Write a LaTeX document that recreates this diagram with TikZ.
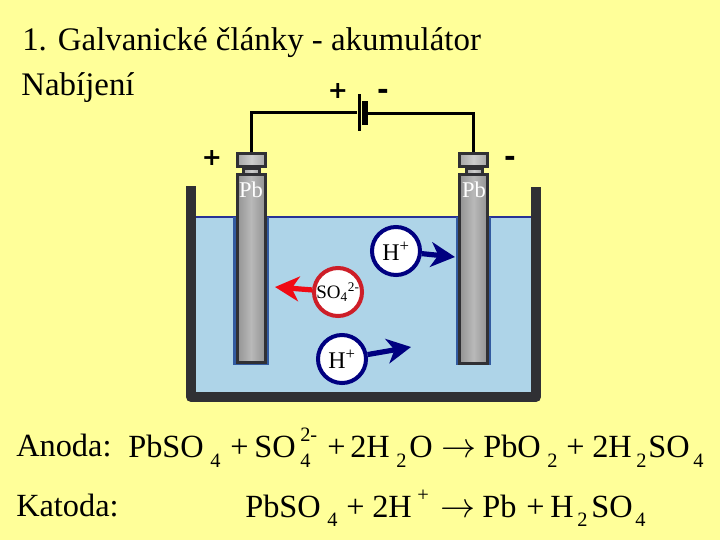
\documentclass[tikz,border=0pt]{standalone}
\usepackage{fontspec}
\setmainfont{Liberation Serif}
\newfontfamily\signfont{DejaVu Sans}
\definecolor{slideyellow}{RGB}{255,255,153}
\definecolor{tankgray}{RGB}{48,48,52}
\definecolor{waterblue}{RGB}{174,212,232}
\definecolor{surfblue}{RGB}{40,50,150}
\definecolor{haloblue}{RGB}{50,90,160}
\definecolor{ionnavy}{RGB}{0,0,128}
\definecolor{ionred}{RGB}{205,30,40}
\definecolor{arrowred}{RGB}{240,10,20}
\usetikzlibrary{arrows.meta,positioning}
\begin{document}
\begin{tikzpicture}[x=0.025cm,y=-0.025cm,
  capbox/.style={draw=tankgray,line width=0.075cm,inner sep=0,left color=gray!70,right color=gray!70,middle color=gray!40,minimum width=0.7cm},
  bodybox/.style={draw=tankgray,line width=0.075cm,inner sep=0,left color=gray!85,right color=gray!85,middle color=gray!55,minimum width=0.7cm,minimum height=4.7cm},
  halo/.style={fill=haloblue,inner sep=0,minimum width=0.88cm,minimum height=3.7cm},
  ion/.style={circle,fill=white,line width=0.1cm,inner sep=0,minimum size=1.2cm,font=\fontsize{17}{17}\selectfont},
  headline/.style={anchor=base west,inner sep=0,font=\fontsize{23.4}{27}\selectfont},
  label/.style={anchor=base west,inner sep=0,font=\fontsize{23}{27}\selectfont},
  index/.style={anchor=base west,inner sep=0,font=\fontsize{14.5}{15}\selectfont},
  wire/.style={draw=black,line width=0.075cm},
  ionarrow/.style={-{Stealth[length=0.6cm,width=0.62cm,inset=0.18cm]},line width=0.13cm},
  plussign/.style={inner sep=0,font=\signfont\bfseries\fontsize{17}{17}\selectfont},
  minussign/.style={inner sep=0,font=\signfont\bfseries\fontsize{20}{20}\selectfont}]
  \useasboundingbox (0,0) rectangle (720,540);
  \fill[slideyellow] (0,0) rectangle (720,540);
  % Title
  \node[headline] (title) at (22,50) {1. Galvanické články - akumulátor};
  \node[headline] (mode) at (21,95) {Nabíjení};
  % Tank
  \fill[waterblue] (196,217) rectangle (531,392);
  \draw[surfblue,line width=0.06cm] (196,217) -- (531,217);
  \draw[tankgray,line width=0.25cm,line join=round] (191,186) -- (191,397) -- (536,397) -- (536,187);
  % Battery
  \node[fill=black,inner sep=0,minimum width=0.075cm,minimum height=0.925cm] (platelong) at (359,112.5) {};
  \node[fill=black,inner sep=0,minimum width=0.15cm,minimum height=0.6cm] (plateshort) at (365,113) {};
  % Electrodes
  \node[halo] (haloleft) at (251,291) {};
  \node[halo] (haloright) at (473.5,291) {};
  \node[bodybox] (bodyleft) at (251,268.5) {};
  \node[bodybox] (bodyright) at (473.5,269) {};
  \node[capbox,minimum width=0.4cm,minimum height=0.15cm] (neckleft) at (251.5,171) {};
  \node[capbox,minimum width=0.4cm,minimum height=0.15cm] (neckright) at (474,171) {};
  \node[capbox,minimum height=0.325cm] (capleft) at (251.5,160) {};
  \node[capbox,minimum height=0.325cm] (capright) at (473.5,160) {};
  \draw[wire] (capleft) |- (platelong);
  \draw[wire] (plateshort) -| (capright);
  \node[text=white,font=\fontsize{16}{16}\selectfont] (pbleft) at (251,190) {Pb};
  \node[text=white,font=\fontsize{16}{16}\selectfont] (pbright) at (474,190) {Pb};
  % Signs
  \node[plussign] (plustop) at (338,91) {+};
  \node[minussign] (minustop) at (383,94) {-};
  \node[plussign] (plusleft) at (212,158) {+};
  \node[minussign] (minusright) at (510,161) {-};
  % Ions
  \node[ion,draw=ionnavy] (hupper) at (396,251) {H\textsuperscript{+}};
  \node[ion,draw=ionred,font=\fontsize{13.5}{14}\selectfont] (sulfate) at (338,292) {SO\textsubscript{4}\textsuperscript{2-}};
  \node[ion,draw=ionnavy] (hlower) at (342,359) {H\textsuperscript{+}};
  \coordinate (tipupper) at (455,257);
  \coordinate (tipsulfate) at (275,287);
  \coordinate (tiplower) at (411,347);
  \draw[ionarrow,ionnavy] (hupper) -- (tipupper);
  \draw[ionarrow,arrowred] (sulfate) -- (tipsulfate);
  \draw[ionarrow,ionnavy] (hlower) -- (tiplower);
  % Reactions
  \node[label] (anode) at (16,456) {Anoda:};
  \node[label] (cathode) at (16,516) {Katoda:};
  \foreach \n/\x/\t in {a/128/PbSO,b/230/+,c/254/SO,d/327/+,e/350/2H,f/409/O,g/441/\ensuremath{\rightarrow},h/483/PbO,i/566/+,j/592/2H,k/648/SO}
    \node[label] (an\n) at (\x,457) {\t};
  \foreach \n/\x/\y/\t in {a/210/467/4,b/300/467/4,c/300/441/2-,d/396/467/2,e/547/467/2,f/636/467/2,g/693/467/4}
    \node[index] (ai\n) at (\x,\y) {\t};
  \foreach \n/\x/\t in {a/245/PbSO,b/346/+,c/372/2H,d/440/\ensuremath{\rightarrow},e/482/Pb,f/526/+,g/550/H,h/591/SO}
    \node[label] (ca\n) at (\x,517) {\t};
  \foreach \n/\x/\y/\t in {a/327/526/4,b/417/501/+,c/577/526/2,d/635/526/4}
    \node[index] (ci\n) at (\x,\y) {\t};
\end{tikzpicture}
\end{document}
